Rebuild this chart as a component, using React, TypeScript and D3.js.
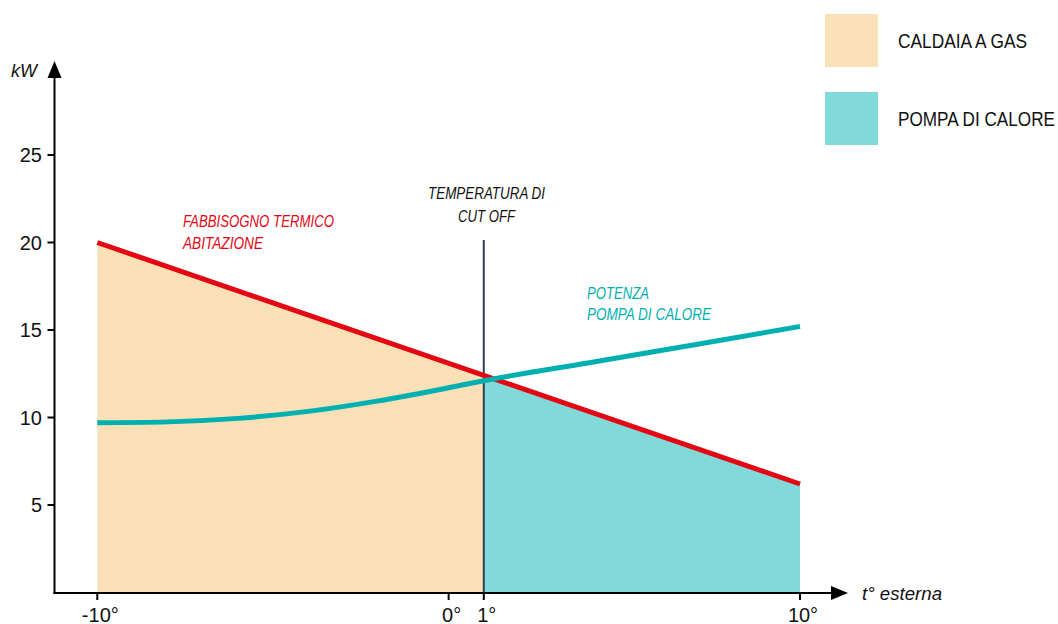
import React from "react";
import * as d3 from "d3";

const demandTemps = [-10, 10];
const demandKW = [20, 6.2];
const hpTemps = [-10, -8, -6, -4, -2, 0, 1, 4, 7, 10];
const hpKW = [9.7, 9.75, 9.95, 10.35, 10.95, 11.7, 12.1, 13.13, 14.16, 15.2];
const cutOffTemp = 1;
const xTicks = [-10, 0, 1, 10];
const yTicks = [5, 10, 15, 20, 25];
const legendLabels = ["CALDAIA A GAS", "POMPA DI CALORE"];

const W = 1058, H = 624;
const x = d3.scaleLinear().domain([-10, 10]).range([97.3, 800]);
const y = d3.scaleLinear().domain([0, 25]).range([592.5, 155]);

const ORANGE = "#FAE0B7";
const TEAL_FILL = "#82D9D9";
const RED = "#E30613";
const TEAL = "#00B0B0";
const NARROW = "'Liberation Sans Narrow', 'Arial Narrow', sans-serif";
const SANS = "'Liberation Sans', Arial, sans-serif";

const demand = d3.scaleLinear().domain(demandTemps).range(demandKW);

export default function App() {
  const area = d3.area<number>().x((t) => x(t)).y0(y(0)).y1((t) => y(demand(t)));
  const leftArea = area([-10, cutOffTemp]);
  const rightArea = area([cutOffTemp, 10]);
  const redLine = d3.line<number>().x((t) => x(t)).y((t) => y(demand(t)))(demandTemps);
  const hpLine = d3
    .line<number>()
    .x((_, i) => x(hpTemps[i]))
    .y((v) => y(v))
    .curve(d3.curveMonotoneX)(hpKW);
  const axisY = 593;
  const axisX = 54.5;
  return (
    <svg width={W} height={H} style={{ position: "absolute", left: 0, top: 0, background: "#fff" }}>
      <path d={leftArea ?? ""} fill={ORANGE} />
      <path d={rightArea ?? ""} fill={TEAL_FILL} />
      <line x1={x(cutOffTemp)} x2={x(cutOffTemp)} y1={240} y2={axisY} stroke="#2E4154" strokeWidth={2} />
      <path d={redLine ?? ""} fill="none" stroke={RED} strokeWidth={5} />
      <path d={hpLine ?? ""} fill="none" stroke={TEAL} strokeWidth={5} />
      {/* axes */}
      <line x1={axisX} x2={axisX} y1={axisY + 1} y2={76} stroke="#000" strokeWidth={2} />
      <path d={`M${axisX - 7},${78} L${axisX},${61} L${axisX + 7},${78} Z`} fill="#000" />
      <line x1={axisX - 1} x2={833} y1={axisY} y2={axisY} stroke="#000" strokeWidth={2} />
      <path d={`M${831},${axisY - 7} L${848},${axisY} L${831},${axisY + 7} Z`} fill="#000" />
      {yTicks.map((v) => (
        <g key={v}>
          <line x1={axisX - 7} x2={axisX} y1={y(v)} y2={y(v)} stroke="#000" strokeWidth={2} />
          <text x={42} y={y(v) + 7} textAnchor="end" fontFamily={SANS} fontSize={20} fill="#111">
            {v}
          </text>
        </g>
      ))}
      {xTicks.map((t) => (
        <g key={t}>
          <line x1={x(t)} x2={x(t)} y1={axisY} y2={axisY + 7} stroke="#000" strokeWidth={2} />
          <text x={x(t) + 3} y={622} textAnchor="middle" fontFamily={SANS} fontSize={20} fill="#111">
            {t + "°"}
          </text>
        </g>
      ))}
      <text x={11} y={77} fontFamily={SANS} fontStyle="italic" fontSize={18} fill="#111">kW</text>
      <text x={862} y={600} fontFamily={NARROW} fontStyle="italic" fontSize={19} fill="#111" textLength={80} lengthAdjust="spacingAndGlyphs">
        t°  esterna
      </text>
      {/* annotations */}
      <g fontFamily={NARROW} fontStyle="italic" fontSize={16}>
        <text x={183} y={227} fill={RED} textLength={151} lengthAdjust="spacingAndGlyphs">FABBISOGNO TERMICO</text>
        <text x={183} y={249} fill={RED} textLength={80} lengthAdjust="spacingAndGlyphs">ABITAZIONE</text>
        <text x={428} y={199} fill="#111" textLength={117} lengthAdjust="spacingAndGlyphs">TEMPERATURA DI</text>
        <text x={458} y={222} fill="#111" textLength={57} lengthAdjust="spacingAndGlyphs">CUT OFF</text>
        <text x={587} y={299} fill={TEAL} textLength={62} lengthAdjust="spacingAndGlyphs">POTENZA</text>
        <text x={587} y={320} fill={TEAL} textLength={124} lengthAdjust="spacingAndGlyphs">POMPA DI CALORE</text>
      </g>
      {/* legend */}
      {legendLabels.map((lab, i) => (
        <g key={lab}>
          <rect x={825} y={14 + i * 78} width={53} height={53} fill={i === 0 ? ORANGE : TEAL_FILL} />
          <text x={898} y={48 + i * 78} fontFamily={NARROW} fontSize={20} fill="#111" textLength={i === 0 ? 129 : 157} lengthAdjust="spacingAndGlyphs">
            {lab}
          </text>
        </g>
      ))}
    </svg>
  );
}
